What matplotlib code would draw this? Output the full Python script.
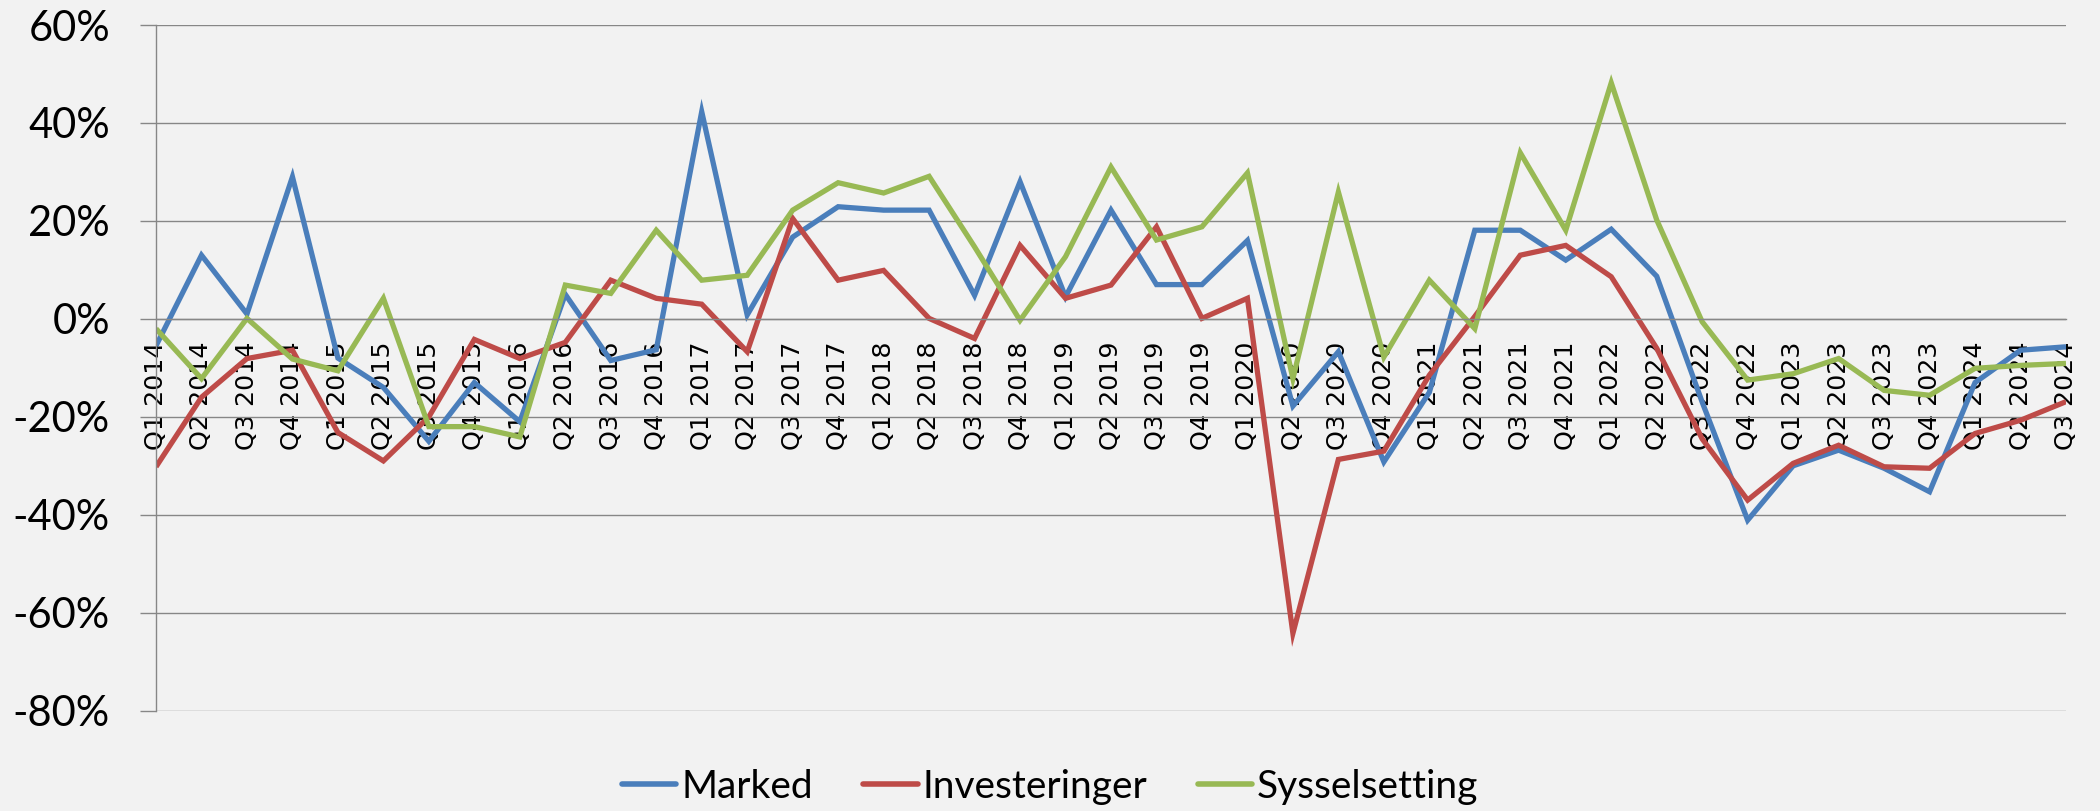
import matplotlib
matplotlib.use("Agg")
import matplotlib.pyplot as plt
from matplotlib.ticker import FixedLocator, FuncFormatter

# quarterly change, percent
years = [2014, 2015, 2016, 2017, 2018, 2019, 2020, 2021, 2022, 2023, 2024]
quarters = [f"Q{q} {y}" for y in years for q in (1, 2, 3, 4)][:43]

marked = [-5.5, 13, 1, 29, -8, -14, -25, -13, -21, 5, -8.5, -6.3, 42.3, 0.8,
          16.7, 22.9, 22.2, 22.2, 4.8, 28, 4.5, 22.2, 7, 7, 16, -17.8, -6.7,
          -29.2, -15, 18.1, 18.1, 12, 18.3, 8.7, -17, -41.1, -30, -26.8,
          -30.5, -35.3, -13, -6.4, -5.7]
investeringer = [-30.2, -16, -8.1, -6.4, -23.2, -29, -20, -4.2, -8.1, -4.8,
                 7.9, 4.2, 3, -6.7, 20.5, 7.9, 9.9, 0.1, -4, 15, 4.2, 6.9,
                 18.8, 0.1, 4.2, -64.2, -28.7, -27, -11.5, 0.5, 13, 15, 8.6,
                 -6, -24.5, -37, -29.5, -25.8, -30.2, -30.5, -23.4, -20.7,
                 -16.9]
sysselsetting = [-2, -12.2, 0.1, -8.2, -10.6, 4.2, -22, -22, -24.1, 6.9, 5.2,
                 18.1, 7.9, 8.9, 22.2, 27.8, 25.7, 29.1, 14.7, -0.3, 12.7, 31,
                 16.1, 18.8, 29.8, -12.2, 25.9, -7.8, 7.9, -2, 33.9, 18.1,
                 48.2, 20.2, -0.6, -12.5, -11.2, -8.1, -14.6, -15.6, -10.1,
                 -9.5, -9.1]

series = [
    ("Marked", marked, "#4A7EBB"),
    ("Investeringer", investeringer, "#BE4B48"),
    ("Sysselsetting", sysselsetting, "#98B954"),
]

bg = "#F2F2F2"
grid_col = "#878787"
plt.rcParams["axes.unicode_minus"] = False

fig = plt.figure(figsize=(21, 8.11), dpi=100, facecolor=bg)
ax = fig.add_axes([0.07429, 0.12367, 0.90952, 0.8455])
ax.set_facecolor(bg)

x = list(range(len(quarters)))
for name, vals, col in series:
    ax.plot(x, vals, color=col, lw=3.8, label=name,
            solid_joinstyle="miter", solid_capstyle="butt")

ax.set_xlim(0, len(quarters) - 1)
ax.set_ylim(-80, 60)

# y axis
ax.yaxis.set_major_locator(FixedLocator(range(-80, 61, 20)))
ax.yaxis.set_major_formatter(FuncFormatter(lambda v, p: f"{int(round(v))}%"))
ax.grid(axis="y", color=grid_col, lw=1.0)
ax.set_axisbelow(True)
ax.tick_params(axis="y", direction="out", length=11.5, width=1.0,
               color=grid_col, pad=21.6)
for lab in ax.get_yticklabels():
    lab.set_fontfamily("Lato")
    lab.set_fontsize(30)

# x axis crosses at 0
for s in ("top", "right"):
    ax.spines[s].set_visible(False)
ax.spines["left"].set_color(grid_col)
ax.spines["left"].set_linewidth(1.0)
ax.spines["bottom"].set_position(("data", 0))
ax.spines["bottom"].set_color(grid_col)
ax.spines["bottom"].set_linewidth(1.0)

ax.set_xticks(x)
ax.set_xticklabels(quarters, rotation=90, fontfamily="DejaVu Sans",
                   fontsize=18.3)
ax.set_xticks(x[::2], minor=True)
ax.tick_params(axis="x", which="major", length=0, pad=16.5)
ax.tick_params(axis="x", which="minor", direction="out", length=7.2,
               width=1.0, color=grid_col)

leg = fig.legend(loc="center", bbox_to_anchor=(0.5, 0.0296), ncol=3,
                 frameon=False, prop={"family": "Lato", "size": 28},
                 handlelength=1.4, handletextpad=0.12, columnspacing=1.3)
for h in leg.get_lines():
    h.set_linewidth(4.0)
    h.set_solid_capstyle("round")

fig.savefig("out.png", dpi=100, facecolor=bg)
